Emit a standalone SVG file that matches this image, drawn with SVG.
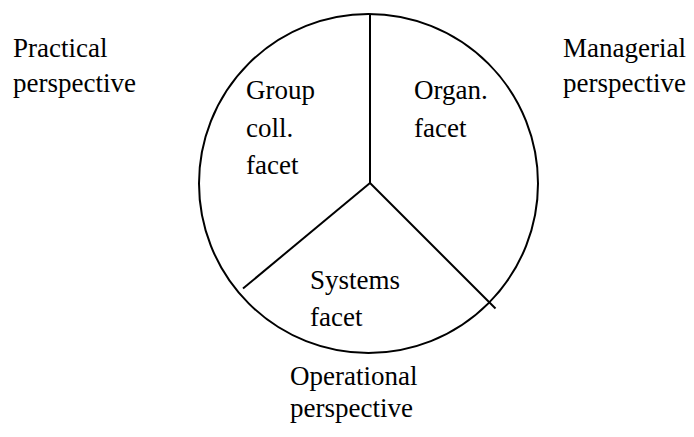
<svg xmlns="http://www.w3.org/2000/svg" width="694" height="437" viewBox="0 0 694 437">
<style>
.t{font-family:"Liberation Serif","Times New Roman",serif;font-size:27px;fill:#000}
.s{fill:none;stroke:#000;stroke-width:2}
</style>
<rect width="694" height="437" fill="#fff"/>
<g id="circle"><circle class="s" cx="368.5" cy="183.5" r="169.5"/></g>
<g id="connectors">
<line class="s" x1="370" y1="14" x2="370" y2="183"/>
<line class="s" x1="370" y1="183" x2="243" y2="288.5"/>
<line class="s" x1="370" y1="183" x2="495.5" y2="308.5"/>
</g>
<g id="practical"><text class="t" x="13" y="57">Practical</text><text class="t" x="13" y="92">perspective</text></g>
<g id="managerial"><text class="t" x="563" y="57">Managerial</text><text class="t" x="563" y="92">perspective</text></g>
<g id="group"><text class="t" x="246" y="99">Group</text><text class="t" x="246" y="137">coll.</text><text class="t" x="246" y="174">facet</text></g>
<g id="organ"><text class="t" x="414" y="99">Organ.</text><text class="t" x="414" y="137">facet</text></g>
<g id="systems"><text class="t" x="310" y="289">Systems</text><text class="t" x="310" y="326">facet</text></g>
<g id="operational"><text class="t" x="290" y="385">Operational</text><text class="t" x="290" y="417">perspective</text></g>
</svg>
